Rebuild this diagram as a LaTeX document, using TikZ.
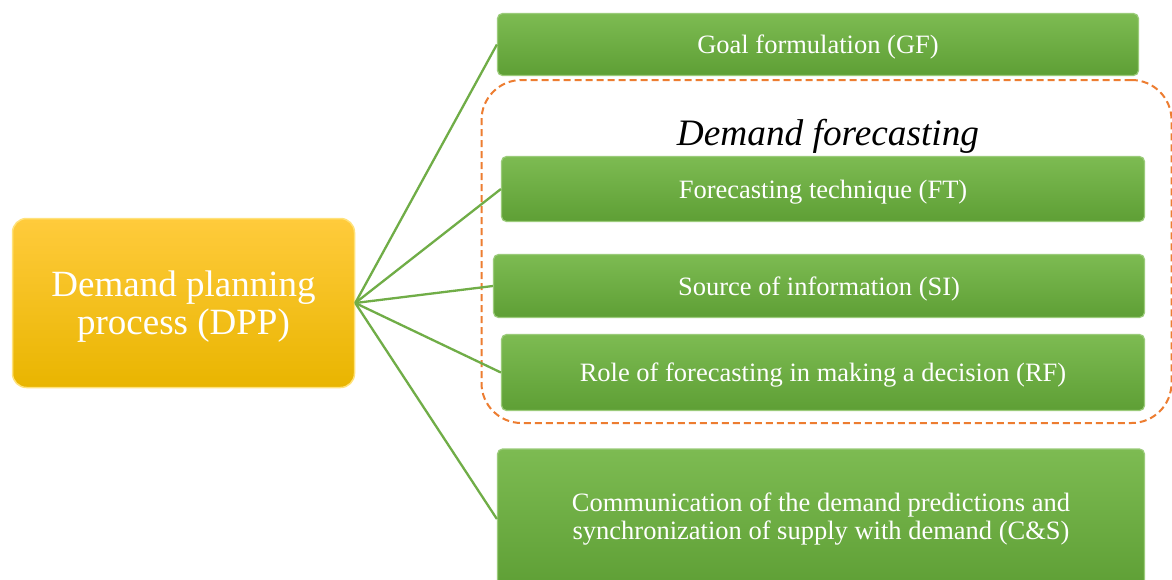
\documentclass[tikz,border=0pt]{standalone}
\usepackage{fontspec}
\setmainfont{Liberation Serif}
\definecolor{gtop}{HTML}{7DBB52}
\definecolor{gbot}{HTML}{5E9F35}
\definecolor{gedge}{HTML}{9BCB7A}
\definecolor{ytop}{HTML}{FFCB3C}
\definecolor{ybot}{HTML}{E9B500}
\definecolor{yedge}{HTML}{FFE27A}
\definecolor{linkc}{HTML}{70AD47}
\definecolor{dashc}{HTML}{ED7D31}
\tikzset{
  gbox/.style={draw=gedge, line width=1.2pt, rounded corners=5pt, top color=gtop, bottom color=gbot,
    text=white, font=\fontsize{26.5}{29}\selectfont, align=center, inner sep=0pt, text depth=0pt},
  ybox/.style={draw=yedge, line width=1.5pt, rounded corners=14pt, top color=ytop, bottom color=ybot,
    text=white, font=\fontsize{37}{38}\selectfont, align=center, inner sep=0pt, text depth=0pt},
  link/.style={draw=linkc, line width=2.3pt},
  dfbox/.style={draw=dashc, dash pattern=on 7pt off 4pt, line width=2pt, rounded corners=40pt, inner sep=0pt},
}
\begin{document}
\begin{tikzpicture}[x=1pt,y=-1pt]
\clip (0,0) rectangle (1172,579);
\fill[white] (0,0) rectangle (1172,579);
\node[dfbox, minimum width=690pt, minimum height=343pt] (df) at (826.5,251.5) {};
\node[font=\fontsize{37.3}{40}\selectfont\itshape] (dft) at (828,136) {Demand forecasting};
\node[ybox, minimum width=342pt, minimum height=169pt] (dpp) at (183.5,303) {Demand planning\\process (DPP)};
\node[gbox, minimum width=641pt, minimum height=62pt] (gf) at (818,44.5) {Goal formulation (GF)};
\node[gbox, minimum width=643pt, minimum height=65pt] (ft) at (823,189) {Forecasting technique (FT)};
\node[gbox, minimum width=651pt, minimum height=63pt] (si) at (819,286) {Source of information (SI)};
\node[gbox, minimum width=643pt, minimum height=76pt] (rf) at (823,372.5) {Role of forecasting in making a decision (RF)};
\node[gbox, minimum width=647pt, minimum height=140pt] (cs) at (821,519) {};
\node[text=white, font=\fontsize{26.5}{28}\selectfont, align=center] (cst) at (821,519) {Communication of the demand predictions and\\synchronization of supply with demand (C\&S)};
\draw[link] (dpp.east) -- (gf.west);
\draw[link] (dpp.east) -- (ft.west);
\draw[link] (dpp.east) -- (si.west);
\draw[link] (dpp.east) -- (rf.west);
\draw[link] (dpp.east) -- (cs.west |- cst.center);
\end{tikzpicture}
\end{document}
